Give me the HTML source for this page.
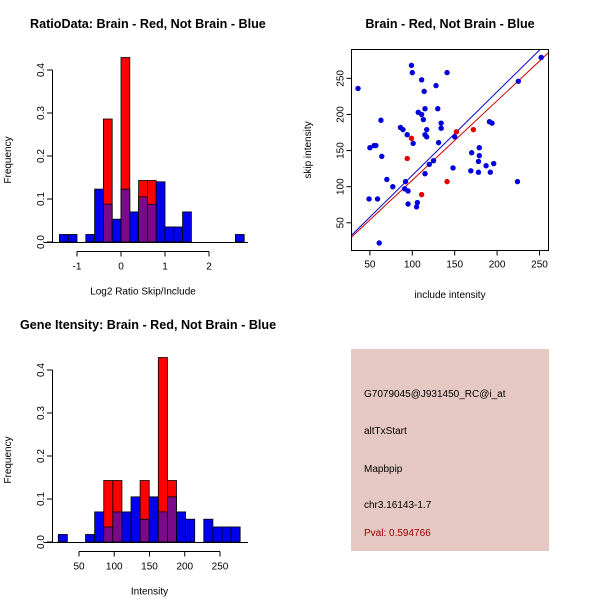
<!DOCTYPE html>
<html><head><meta charset="utf-8"><style>
body{margin:0;background:#fff}
svg{display:block;font-family:"Liberation Sans",sans-serif}
</style></head><body>
<svg id="s" width="600" height="600" xmlns="http://www.w3.org/2000/svg">
<rect width="600" height="600" fill="#fff"/>
<text x="30" y="28" font-size="12.6" font-weight="bold">RatioData: Brain - Red, Not Brain - Blue</text>
<text x="450" y="28" font-size="12.6" font-weight="bold" text-anchor="middle">Brain - Red, Not Brain - Blue</text>
<text x="20" y="329" font-size="12.6" font-weight="bold">Gene Itensity: Brain - Red, Not Brain - Blue</text>
<g id="g1"></g>
<g id="g2"></g>
<g id="g3"></g>
<g>
<rect x="351" y="349" width="198" height="202" fill="#e5c8c2"/>
<text x="364" y="397" font-size="10">G7079045@J931450_RC@i_at</text>
<text x="364" y="434" font-size="10">altTxStart</text>
<text x="364" y="472" font-size="10">Mapbpip</text>
<text x="364" y="508" font-size="10">chr3.16143-1.7</text>
<text x="364" y="536" font-size="10" fill="#a00000">Pval: 0.594766</text>
</g>
</svg>
<script>
const NS="http://www.w3.org/2000/svg";
// ratio histogram data
const ratioBreakStart=-1.4, ratioBinWidth=0.2;
const ratioBlue=[0.0175,0.0175,0,0.0175,0.123,0.088,0.053,0.123,0.07,0.105,0.088,0.14,0.035,0.035,0.07,0,0,0,0,0,0.0175];
const ratioRed=[0,0,0,0,0,0.286,0,0.429,0,0.143,0.143,0,0,0,0,0,0,0,0,0,0];
const ratioXTicks=[-1,0,1,2];
const freqTicks=[0,0.1,0.2,0.3,0.4];
// intensity histogram data
const intBreakStart=20.6, intBinWidth=12.9;
const intBlue=[0.0175,0,0,0.0175,0.07,0.035,0.07,0.07,0.105,0.053,0.105,0.07,0.105,0.07,0.053,0,0.053,0.035,0.035,0.035];
const intRed=[0,0,0,0,0,0.143,0.143,0,0,0.143,0,0.429,0.143,0,0,0,0,0,0,0];
const intXTicks=[50,100,150,200,250];
// scatter data
const blueX=[36,99,100,111,141,128,114,115,130,107,111,113,63,134,134,117,115,117,86,89,94,101,131,150,191,194,50,55,57,64,179,179,170,125,120,178,187,196,148,115,169,178,192,70,77,92,91,95,224,49,59,95,106,105,61,225,252];
const blueY=[236,268,258,248,258,240,232,208,208,203,200,193,192,188,181,179,172,169,182,179,172,160,161,169,190,188,154,157,157,142,154,143,147,136,131,135,129,132,126,118,122,120,120,110,100,107,97,94,107,83,83,76,78,72,22,246,279];
const redX=[99,94,111,141,152,172];
const redY=[167,139,89,107,176,179];
const blueFit=[0,1.157];
const redFit=[-1,1.1];
const scXTicks=[50,100,150,200,250];
const scYTicks=[50,100,150,200,250];

function el(p,t,a){const e=document.createElementNS(NS,t);for(const k in a)e.setAttribute(k,a[k]);p.appendChild(e);return e;}

function hist(g,start,w,blue,red,xt,sx,sy,xlab,x0,x1){
  const y0=sy(0);
  for(let i=0;i<blue.length;i++){
    const a=sx(start+i*w),b=sx(start+(i+1)*w);
    const bv=blue[i],rv=red[i];
    if(rv>0){const r=el(g,'rect',{x:a,y:sy(rv),width:b-a,height:y0-sy(rv),fill:'#ff0000',stroke:'#000','stroke-width':0.8});
      
      }
    if(bv>0){const c=(rv>0)?'#7a0a8a':'#0000ee';
      const r=el(g,'rect',{x:a,y:sy(bv),width:b-a,height:y0-sy(bv),fill:c,stroke:'#000','stroke-width':0.8});
      
      }
  }
  el(g,'line',{x1:x0,x2:x1,y1:y0+0.5,y2:y0+0.5,stroke:'#000'});
  el(g,'line',{x1:52.5,x2:52.5,y1:sy(0),y2:sy(0.4),stroke:'#000'});
  freqTicks.forEach(v=>{el(g,'line',{x1:47,x2:52.5,y1:sy(v),y2:sy(v),stroke:'#000'});
    const t=el(g,'text',{x:0,y:0,'font-size':10,'text-anchor':'middle',transform:`translate(${44},${sy(v)}) rotate(-90)`});t.textContent=v.toFixed(1);
    
    });
  const yl=el(g,'text',{'font-size':10,'text-anchor':'middle',transform:`translate(11,${sy(0.2)+4}) rotate(-90)`});yl.textContent='Frequency';
  
  
  const ya=y0+9.5;
  el(g,'line',{x1:sx(xt[0]),x2:sx(xt[xt.length-1]),y1:ya,y2:ya,stroke:'#000'});
  xt.forEach(v=>{el(g,'line',{x1:sx(v),x2:sx(v),y1:ya,y2:ya+5,stroke:'#000'});
    const t=el(g,'text',{x:sx(v),y:ya+18,'font-size':10,'text-anchor':'middle'});t.textContent=v;
    
    });
  const xl=el(g,'text',{x:(sx(xt[0])+sx(xt[xt.length-1]))/2,y:ya+43,'font-size':10,'text-anchor':'middle'});xl.textContent=xlab;
  
  
}
const g1=document.getElementById('g1');
hist(g1,ratioBreakStart,ratioBinWidth,ratioBlue,ratioRed,ratioXTicks,v=>121+v*44,v=>242-v*430,'Log2 Ratio Skip/Include',44,248);
const g2=document.getElementById('g2');
hist(g2,intBreakStart,intBinWidth,intBlue,intRed,intXTicks,v=>79+(v-50)*0.705,v=>542-v*430,'Intensity',44,248);

const g3=document.getElementById('g3');
const L=351.5,R=548.5,T=49.5,B=250.5;
const xmin=28.3,xmax=260.6,ymin=11.6,ymax=290;
const sx=v=>L+(v-xmin)/(xmax-xmin)*(R-L), sy=v=>B-(v-ymin)/(ymax-ymin)*(B-T);
const cp=el(g3,'clipPath',{id:'cp'});el(cp,'rect',{x:L,y:T,width:R-L,height:B-T});
function fit(c,col){const l=el(g3,'line',{x1:sx(xmin),y1:sy(c[0]+c[1]*xmin),x2:sx(xmax),y2:sy(c[0]+c[1]*xmax),stroke:col,'stroke-width':1,'clip-path':'url(#cp)'});
  
  }
fit(blueFit,'#0000cc');fit(redFit,'#cc0000');
redX.forEach((x,i)=>{const c=el(g3,'circle',{cx:sx(x),cy:sy(redY[i]),r:2.7,fill:'#e00000'});
  
  });
blueX.forEach((x,i)=>{const c=el(g3,'circle',{cx:sx(x),cy:sy(blueY[i]),r:2.7,fill:'#0000dd'});
  
  });
el(g3,'rect',{x:L,y:T,width:R-L,height:B-T,fill:'none',stroke:'#000'});
scXTicks.forEach(v=>{el(g3,'line',{x1:sx(v),x2:sx(v),y1:B,y2:B+5,stroke:'#000'});
  const t=el(g3,'text',{x:sx(v),y:B+17,'font-size':10,'text-anchor':'middle'});t.textContent=v;
  
  });
scYTicks.forEach(v=>{el(g3,'line',{x1:L-5,x2:L,y1:sy(v),y2:sy(v),stroke:'#000'});
  const t=el(g3,'text',{'font-size':10,'text-anchor':'middle',transform:`translate(${L-8},${sy(v)}) rotate(-90)`});t.textContent=v;
  
  });
const xt=el(g3,'text',{x:(L+R)/2,y:298,'font-size':10,'text-anchor':'middle'});xt.textContent='include intensity';


const yt=el(g3,'text',{'font-size':10,'text-anchor':'middle',transform:`translate(311,${(T+B)/2}) rotate(-90)`});yt.textContent='skip intensity';


</script>
</body></html>
